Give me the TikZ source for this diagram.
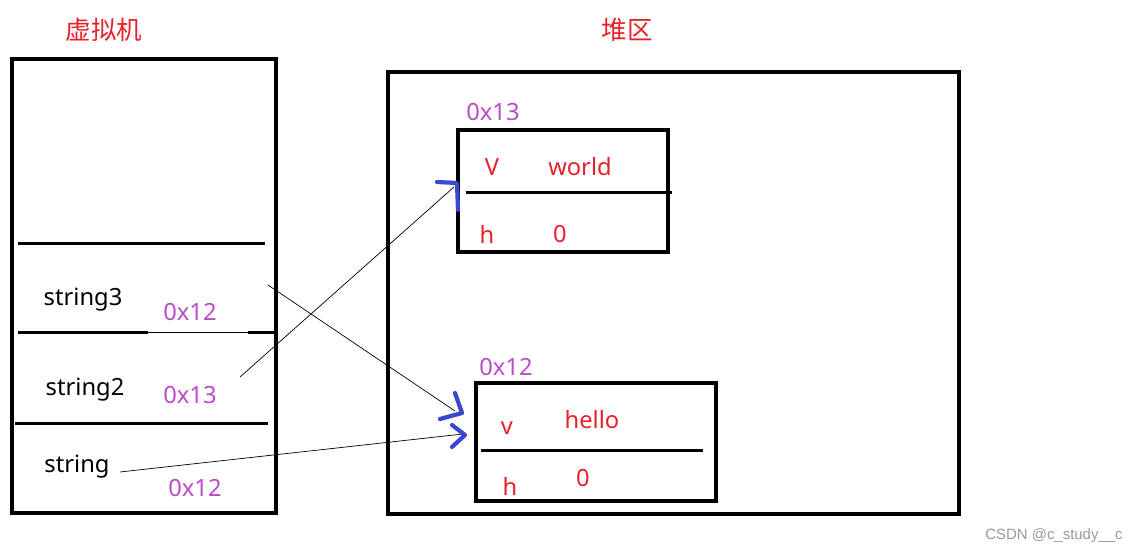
\documentclass[tikz,border=0pt]{standalone}
\usepackage{fontspec}
\usepackage{tkz-euclide}
\setmainfont{Noto Sans}
\newfontfamily\cjk{Noto Sans CJK SC}
\newfontfamily\wmark{Liberation Sans}
\definecolor{labelred}{HTML}{E8202A}
\definecolor{addrpurple}{HTML}{BA4CC9}
\definecolor{penblue}{HTML}{3A48CF}
\definecolor{markgrey}{HTML}{9A9A9A}

\begin{document}
\begin{tikzpicture}[x=0.02cm, y=-0.02cm,
    txt/.style={font=\fontsize{13.5}{16}\selectfont, inner sep=0pt},
    fld/.style={txt, text=labelred},
    addr/.style={txt, text=addrpurple},
    heading/.style={font=\cjk\fontsize{14.5}{17}\selectfont, text=labelred, inner sep=0pt},
    boxline/.style={line width=1.8pt},
    ruleline/.style={line width=1.8pt},
    ptr/.style={line width=0.4pt},
    pen/.style={penblue, line width=2.4pt, line cap=round, line join=round}]
    \useasboundingbox (0,0) rectangle (1137,553);
    % frames
    \tkzDefPoints{12/59/A, 276/59/B, 276/513/C, 12/513/D}
    \tkzDefPoints{388/72/E, 959/72/F, 959/514/G, 388/514/H}
    \tkzDefPoints{458/130/P, 668/130/Q, 668/252/R, 458/252/S}
    \tkzDefPoints{476/383/K, 716/383/L, 716/501/M, 476/501/N}
    \draw[boxline] (A) -- (B) -- (C) -- (D) -- cycle;
    \draw[boxline] (E) -- (F) -- (G) -- (H) -- cycle;
    \draw[boxline] (P) -- (Q) -- (R) -- (S) -- cycle;
    \draw[boxline] (K) -- (L) -- (M) -- (N) -- cycle;
    % rules
    \tkzDefPoints{18/243.5/r1, 265/243.5/r2, 18/332.5/r3, 148/332.5/r4, 248/332.5/r5, 278/332.5/r6}
    \tkzDefPoints{15/423.5/r7, 268/423.5/r8, 466/192.5/u1, 672/192.5/u2, 481/450.5/w1, 703/450.5/w2}
    \draw[ruleline] (r1) -- (r2) (r3) -- (r4) (r5) -- (r6) (r7) -- (r8) (u1) -- (u2) (w1) -- (w2);
    \draw[line width=0.6pt] (r4) -- (r5);
    % titles
    \node[heading] (vm) at (104,30) {虚拟机};
    \node[heading] (heap) at (627,30) {堆区};
    % stack slots
    \node[txt] (str3) at (83,300) {string3};
    \node[addr] (str3addr) at (190,312) {0x12};
    \node[txt] (str2) at (85,390) {string2};
    \node[addr] (str2addr) at (190,395) {0x13};
    \node[txt] (str1) at (77,467) {string};
    \node[addr] (str1addr) at (195,488) {0x12};
    % heap objects
    \node[addr] (worldaddr) at (493,112) {0x13};
    \node[fld] (worldv) at (492,167) {V};
    \node[fld] (world) at (580,167) {world};
    \node[fld] (worldh) at (487,234) {h};
    \node[fld] (worldhash) at (560,234) {0};
    \node[addr] (helloaddr) at (506,367) {0x12};
    \node[fld] (hellov) at (507,428) {v};
    \node[fld] (hello) at (592,420) {hello};
    \node[fld] (helloh) at (510,486) {h};
    \node[fld] (hellohash) at (583,478) {0};
    % pointers
    \tkzDefPoints{268/285/p1, 455/411/p2, 240/377/p3, 454/187/p4, 120/472/p5, 463/434/p6}
    \draw[ptr] (p1) -- (p2) (p3) -- (p4) (p5) -- (p6);
    \draw[pen] (437,182) -- (457,183) -- (458,210);
    \draw[pen] (455,393) -- (462,413) -- (440,419);
    \draw[pen] (452,425) -- (465,435) -- (452,447);
    \node[font=\wmark\fontsize{8.5}{10}\selectfont, text=markgrey, inner sep=0pt] (csdn) at (1054,536) {CSDN @c\_study\_\_c};
\end{tikzpicture}
\end{document}
